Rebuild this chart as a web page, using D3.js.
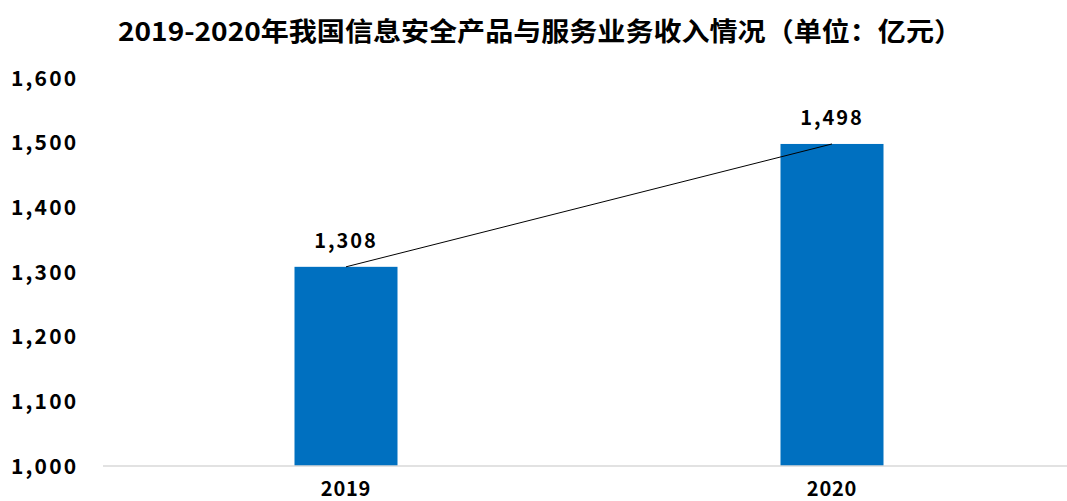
<!DOCTYPE html>
<html>
<head>
<meta charset="utf-8">
<script src="https://cdn.jsdelivr.net/npm/d3@7"></script>
<style>
  body { margin: 0; background: #fff; }
  text { font-family: "Noto Sans CJK SC", "Noto Sans", sans-serif; fill: #000; }
</style>
</head>
<body>
<div id="chart"></div>
<script>
const years = ['2019', '2020']
const revenue = [1308, 1498]
const yTicks = [1000, 1100, 1200, 1300, 1400, 1500, 1600]
const chartTitle = '2019-2020年我国信息安全产品与服务业务收入情况（单位：亿元）'

const width = 1067
const height = 501
const margin = { top: 78, bottom: 35, left: 103, right: 0 }

const svg = d3.select('#chart').append('svg')
    .attr('width', width)
    .attr('height', height)

svg.append('text')
    .attr('x', 540)
    .attr('y', 41)
    .attr('text-anchor', 'middle')
    .attr('font-size', 26)
    .attr('font-weight', 'bold')
    .attr('textLength', 844)
    .attr('lengthAdjust', 'spacingAndGlyphs')
    .text(chartTitle)

const x = d3.scaleBand()
    .domain(years)
    .range([margin.left, 1075])

const y = d3.scaleLinear()
    .domain([1000, 1600])
    .range([height - margin.bottom, margin.top])

const fmt = d3.format(',')

// y labels, no axis line
svg.append('g')
    .selectAll('text')
    .data(yTicks)
    .enter()
    .append('text')
        .attr('x', 11)
        .attr('y', d => y(d))
        .attr('dy', '0.36em')
        .attr('font-size', 21)
        .attr('font-weight', 'bold')
        .attr('letter-spacing', 2.2)
        .text(d => fmt(d))

const barWidth = 103

svg.selectAll('bars').data(years)
.enter()
    .append('rect')
        .attr('x', d => x(d) + x.bandwidth() / 2 - barWidth / 2)
        .attr('y', (d, i) => y(revenue[i]))
        .attr('width', barWidth)
        .attr('height', (d, i) => y(1000) - y(revenue[i]))
        .attr('fill', '#0070C0')

svg.append('line')
    .attr('x1', margin.left)
    .attr('x2', width)
    .attr('y1', y(1000))
    .attr('y2', y(1000))
    .attr('stroke', '#d9d9d9')
    .attr('stroke-width', 1.5)

// trend line between bar tops
svg.append('path')
    .datum(years)
    .attr('fill', 'none')
    .attr('stroke', '#000')
    .attr('stroke-width', 1)
    .attr('d', d3.line()
        .x(d => x(d) + x.bandwidth() / 2)
        .y((d, i) => y(revenue[i])))

svg.selectAll('valueLabels').data(years)
.enter()
    .append('text')
        .attr('x', d => x(d) + x.bandwidth() / 2)
        .attr('y', (d, i) => y(revenue[i]) - 19)
        .attr('text-anchor', 'middle')
        .attr('font-size', 20)
        .attr('font-weight', 'bold')
        .attr('letter-spacing', 2)
        .text((d, i) => fmt(revenue[i]))

svg.selectAll('xLabels').data(years)
.enter()
    .append('text')
        .attr('x', d => x(d) + x.bandwidth() / 2)
        .attr('y', 496)
        .attr('text-anchor', 'middle')
        .attr('font-size', 20)
        .attr('font-weight', 'bold')
        .attr('letter-spacing', 0.8)
        .text(d => d)
</script>
</body>
</html>
